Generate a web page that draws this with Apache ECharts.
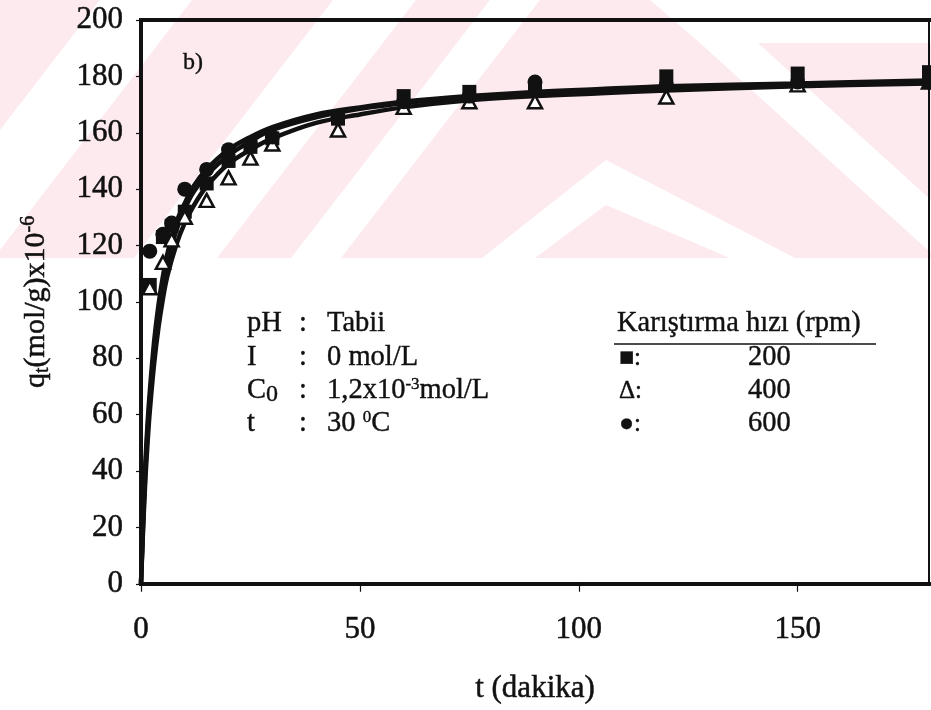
<!DOCTYPE html>
<html>
<head>
<meta charset="utf-8">
<script src="https://cdn.jsdelivr.net/npm/echarts@6/dist/echarts.min.js"></script>
<style>
  html, body { margin: 0; padding: 0; background: #fff; }
  #chart { width: 931px; height: 710px; }
</style>
</head>
<body>
<div id="chart"></div>
<script>
// Adsorption kinetics at three stirring speeds (measured points + fitted curves)
const speedNames = ['200', '400', '600'];

// measured sampling times (min)
const times = [2, 5, 7, 10, 15, 20, 25, 30, 45, 60, 75, 90, 120, 150, 180];
// q_t x10^-6 mol/g
const q200 = [106, 123, 127, 132, 142, 150, 155, 158, 165, 173, 174.5, 175, 180, 181, 181.5];
const q400 = [105, 114, 122, 130, 136, 144, 151, 156, 161, 169, 171, 171, 172.7, 177, 178];
const q600 = [118, 124, 128, 140, 147, 154, 156, 158.5, 165.5, 171, 173, 178, 177, 178, 178];

// fitted kinetic curves, sampled along t
const curveT = [0, 0.5, 1, 1.5, 2, 3, 4, 5, 6, 8, 10, 12, 15, 20, 25, 30, 40, 50, 60, 75, 90, 105, 120, 150, 180];
const fit200 = [0, 22, 40, 54, 65, 83, 96, 106, 114, 125, 133, 139, 145, 152, 157, 161, 165.5, 168.5, 170.5, 172.5, 174, 175, 176, 177, 178];
const fit400 = [0, 20, 37, 50, 61, 78, 91, 101, 109, 120, 128, 134, 141, 149, 154, 158, 163.5, 166.5, 169, 171.5, 173, 174, 175, 176.5, 177.5];
const fit600 = [0, 24, 43, 57, 68, 86, 99, 109, 117, 128, 135, 141, 147, 154, 158.5, 162, 166.5, 169, 171, 173, 174.5, 175.5, 176.5, 177.5, 178.5];

// axis ranges and ticks
const xMin = 0, xMax = 180, xStep = 50;
const yMin = 0, yMax = 200, yStep = 20;

// experimental conditions block
const condLabels = ['pH', 'I', '{n|C}{sb|0}', 't'];
const condValues = ['Tabii', '0 mol/L', '1,2x10{sp|-3}mol/L', '30 {sp|0}C'];
const legendTitle = 'Karıştırma hızı (rpm)';
const legendSymbols = ['■:', 'Δ:', '●:'];

const FONT = 'Liberation Serif';
const INK = '#111';
const HEAVY = { textBorderColor: INK, textBorderWidth: 0.5 };

const pair = (xs, ys) => xs.map((x, i) => [x, ys[i]]);

const chart = echarts.init(document.getElementById('chart'), null, { renderer: 'canvas' });

// faint diagonal watermark bands in the upper part of the page
const PINK = '#fdeaee';
const bandTop = 258;
const bgShapes = [
  { type: 'rect', shape: { x: 0, y: 0, width: 931, height: bandTop }, style: { fill: PINK } },
  { type: 'polygon', shape: { points: [[100, 0], [192, 0], [0, 250], [0, 130]] }, style: { fill: '#fff' } },
  { type: 'polygon', shape: { points: [[333, 0], [416, 0], [217, bandTop], [134, bandTop]] }, style: { fill: '#fff' } },
  { type: 'polygon', shape: { points: [[490, 0], [540, 0], [341, bandTop], [291, bandTop]] }, style: { fill: '#fff' } },
  { type: 'polygon', shape: { points: [[606, 160], [795, bandTop], [482, bandTop]] }, style: { fill: '#fff' } },
  { type: 'polygon', shape: { points: [[606, 205], [730, bandTop], [535, bandTop]] }, style: { fill: PINK } },
  { type: 'polygon', shape: { points: [[650, 0], [931, 0], [931, 43], [700, 43]] }, style: { fill: '#fff' } },
  { type: 'polygon', shape: { points: [[700, 43], [758, 43], [931, 200], [931, 253]] }, style: { fill: '#fff' } }
].map(s => Object.assign({ silent: true, z: -10 }, s));

const textBase = { fontFamily: FONT, fill: INK, stroke: INK, lineWidth: 0.4 };
const AFS = 28.5;
const condRich = {
  n: { fontFamily: FONT, fontSize: AFS, color: INK },
  sb: { fontFamily: FONT, fontSize: 24, color: INK, verticalAlign: 'bottom', padding: [8, 0, 0, 0] },
  sp: { fontFamily: FONT, fontSize: 17, color: INK, verticalAlign: 'top', padding: [0, 0, 11, 0] }
};

const rowsY = [324, 358, 391, 424];
const annot = [];
condLabels.forEach((lab, i) => {
  annot.push({ type: 'text', x: 247, y: rowsY[i], style: Object.assign({ text: lab, fontSize: AFS, verticalAlign: 'middle', rich: condRich }, textBase) });
  annot.push({ type: 'text', x: 299, y: rowsY[i], style: Object.assign({ text: ':', fontSize: AFS, verticalAlign: 'middle' }, textBase) });
  annot.push({ type: 'text', x: 327, y: rowsY[i], style: Object.assign({ text: condValues[i], fontSize: AFS, verticalAlign: 'middle', rich: condRich }, textBase) });
});
annot.push({ type: 'text', x: 617, y: rowsY[0], style: Object.assign({ text: legendTitle, fontSize: AFS, verticalAlign: 'middle' }, textBase) });
annot.push({ type: 'line', shape: { x1: 614, y1: 344, x2: 876, y2: 344 }, style: { stroke: INK, lineWidth: 1.5 } });
legendSymbols.forEach((sym, i) => {
  annot.push({ type: 'text', x: 619, y: rowsY[i + 1], style: Object.assign({ text: sym, fontSize: 25, verticalAlign: 'middle' }, textBase) });
  annot.push({ type: 'text', x: 748, y: rowsY[i + 1], style: Object.assign({ text: speedNames[i], fontSize: AFS, verticalAlign: 'middle' }, textBase) });
});
annot.push({ type: 'text', x: 183, y: 63, style: Object.assign({ text: 'b)', fontSize: 24, verticalAlign: 'middle' }, textBase) });

const axisLineStyle = w => ({ show: true, onZero: false, lineStyle: { color: INK, width: w, cap: 'square' } });

const fitLine = (name, ys) => ({
  name: name, type: 'line', data: pair(curveT, ys), smooth: 0.35, showSymbol: false,
  lineStyle: { color: INK, width: 4.5 }, z: 3, silent: true
});

const option = {
  animation: false,
  backgroundColor: 'transparent',
  graphic: { elements: bgShapes.concat(annot) },
  grid: { left: 141, right: 2, top: 20, bottom: 126, containLabel: false },
  xAxis: [{
    type: 'value', min: xMin, max: xMax, interval: xStep,
    name: 't (dakika)', nameLocation: 'middle', nameGap: 90,
    nameTextStyle: Object.assign({ fontFamily: FONT, fontSize: 31, color: INK }, HEAVY),
    axisLine: axisLineStyle(4),
    axisTick: { show: true, length: 8, inside: false, lineStyle: { color: INK, width: 1.2 } },
    axisLabel: Object.assign({ fontFamily: FONT, fontSize: 31, color: INK, margin: 31, showMaxLabel: false,
      formatter: v => (v % xStep === 0 ? String(v) : '') }, HEAVY),
    splitLine: { show: false }
  }, {
    type: 'value', position: 'top', min: xMin, max: xMax, interval: xStep,
    axisLine: axisLineStyle(4), axisTick: { show: false }, axisLabel: { show: false }, splitLine: { show: false }
  }],
  yAxis: [{
    type: 'value', min: yMin, max: yMax, interval: yStep,
    name: '{m|q}{sb|t}{m|(mol/g)x10}{sp|-6}', nameLocation: 'middle', nameGap: 88, nameRotate: 90,
    nameTextStyle: {
      fontFamily: FONT, fontSize: 30, color: INK,
      rich: {
        m: Object.assign({ fontFamily: FONT, fontSize: 30, color: INK }, HEAVY),
        sb: Object.assign({ fontFamily: FONT, fontSize: 20, color: INK, verticalAlign: 'bottom', padding: [10, 0, 0, 0] }, HEAVY),
        sp: Object.assign({ fontFamily: FONT, fontSize: 20, color: INK, verticalAlign: 'top', padding: [0, 0, 14, 0] }, HEAVY)
      }
    },
    axisLine: axisLineStyle(4),
    axisTick: { show: true, length: 5, inside: false, lineStyle: { color: INK, width: 1.2 } },
    axisLabel: Object.assign({ fontFamily: FONT, fontSize: 31, color: INK, margin: 18 }, HEAVY),
    splitLine: { show: false }
  }, {
    type: 'value', position: 'right', min: yMin, max: yMax, interval: yStep,
    axisLine: axisLineStyle(2), axisTick: { show: false }, axisLabel: { show: false }, splitLine: { show: false }
  }],
  series: [
    fitLine('fit ' + speedNames[0], fit200),
    fitLine('fit ' + speedNames[1], fit400),
    fitLine('fit ' + speedNames[2], fit600),
    {
      name: speedNames[0], type: 'scatter', data: pair(times, q200), symbol: 'rect', symbolSize: 14,
      itemStyle: { color: INK, opacity: 1 }, z: 5
    },
    {
      name: speedNames[1], type: 'scatter', data: pair(times, q400), symbol: 'triangle', symbolSize: [14, 13],
      itemStyle: { color: '#fff', borderColor: INK, borderWidth: 2.5, opacity: 1 }, z: 6
    },
    {
      name: speedNames[2], type: 'scatter', data: pair(times, q600), symbol: 'circle', symbolSize: 15,
      itemStyle: { color: INK, opacity: 1 }, z: 7
    }
  ]
};

chart.setOption(option);
</script>
</body>
</html>
